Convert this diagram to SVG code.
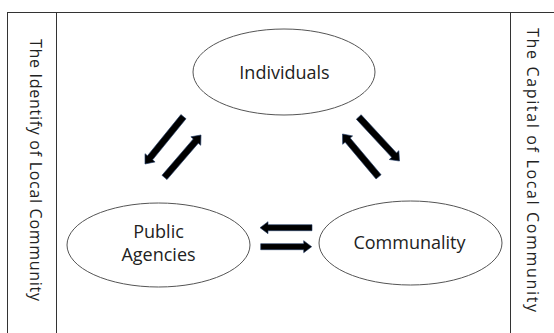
<svg xmlns="http://www.w3.org/2000/svg" width="554" height="333" viewBox="0 0 554 333">
<style>
.frame{fill:none;stroke:#333;stroke-width:1}
.node{fill:#fff;stroke:#555;stroke-width:1}
.lbl{font-family:"Open Sans","Liberation Sans",sans-serif;font-size:18px;fill:#222;text-anchor:middle}
.side{font-family:"Open Sans","Liberation Sans",sans-serif;font-size:16px;fill:#222;text-anchor:middle}
.arr{fill:#000;stroke:#203a66;stroke-width:0.6;stroke-linejoin:miter}
</style>
<rect width="554" height="333" fill="#fff"/>
<g id="frame">
<rect class="frame" x="7.5" y="12.5" width="560" height="340"/>
<line class="frame" x1="56.5" y1="12.5" x2="56.5" y2="340"/>
<line class="frame" x1="510.5" y1="12.5" x2="510.5" y2="340"/>
</g>
<g id="side-left">
<text class="side" transform="translate(30,170) rotate(90)" textLength="262" lengthAdjust="spacing">The Identify of Local Community</text>
</g>
<g id="side-right">
<text class="side" transform="translate(527,170) rotate(90)" textLength="284" lengthAdjust="spacing">The Capital of Local Community</text>
</g>
<g id="individuals">
<ellipse class="node" cx="284" cy="72" rx="91" ry="43"/>
<text class="lbl" x="284.5" y="79">Individuals</text>
</g>
<g id="public-agencies">
<ellipse class="node" cx="158.5" cy="245" rx="91.5" ry="42"/>
<text class="lbl" x="158.5" y="238">Public</text>
<text class="lbl" x="158.5" y="261">Agencies</text>
</g>
<g id="communality">
<ellipse class="node" cx="410.5" cy="243" rx="91.5" ry="42"/>
<text class="lbl" x="409.5" y="249">Communality</text>
</g>
<g id="connectors">
<polygon class="arr" transform="translate(145,164) rotate(129.1)" points="0,0 -8,-6.5 -8,-3.3 -61,-3.3 -61,3.3 -8,3.3 -8,6.5"/>
<polygon class="arr" transform="translate(201,135) rotate(-49.3)" points="0,0 -8,-6.5 -8,-3.3 -56,-3.3 -56,3.3 -8,3.3 -8,6.5"/>
<polygon class="arr" transform="translate(399.5,161) rotate(47.2)" points="0,0 -8,-6.5 -8,-3.3 -60,-3.3 -60,3.3 -8,3.3 -8,6.5"/>
<polygon class="arr" transform="translate(342.5,134) rotate(-130.1)" points="0,0 -8,-6.5 -8,-3.3 -56,-3.3 -56,3.3 -8,3.3 -8,6.5"/>
<polygon class="arr" transform="translate(260,227.7) rotate(180)" points="0,0 -8,-6 -8,-3 -52,-3 -52,3 -8,3 -8,6"/>
<polygon class="arr" transform="translate(311.7,246.7)" points="0,0 -8,-6 -8,-3 -51,-3 -51,3 -8,3 -8,6"/>
</g>
</svg>
